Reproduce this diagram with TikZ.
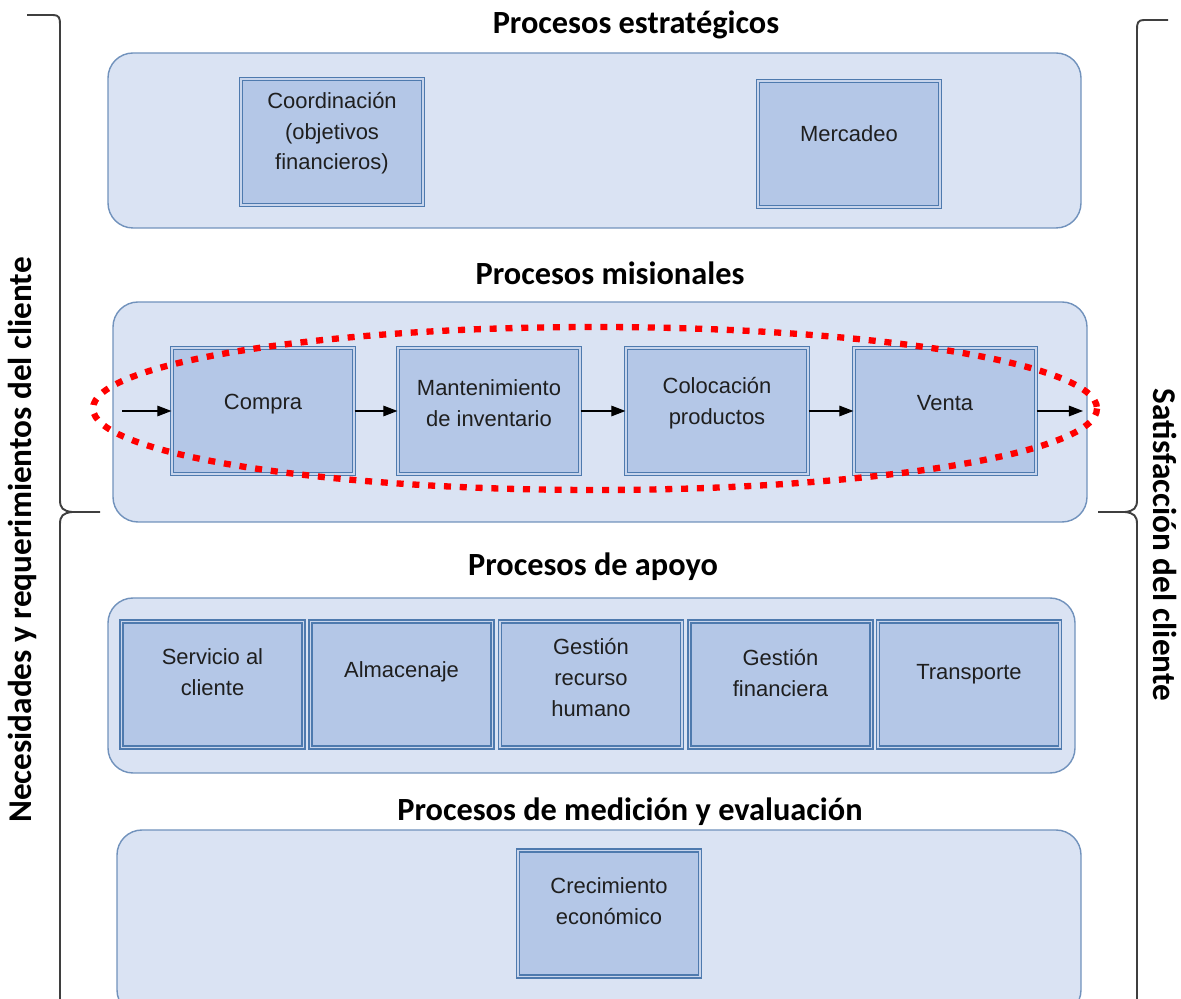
\documentclass[tikz,border=0pt]{standalone}
\usepackage{fontspec}
\setmainfont{Liberation Sans}
\newfontfamily\headfont{Carlito}
\usetikzlibrary{arrows.meta}
\definecolor{panelfill}{HTML}{DAE3F3}
\definecolor{paneledge}{HTML}{7192BC}
\definecolor{boxfill}{HTML}{B4C7E7}
\definecolor{boxedge}{HTML}{4E7AAE}
\definecolor{boxgap}{HTML}{C8D5EC}
\definecolor{bracegray}{HTML}{3F3F3F}
\tikzset{
  panel/.style={draw=paneledge, fill=panelfill, line width=0.8pt, rounded corners=0.5cm},
  proc/.style={draw=boxedge, fill=boxfill, line width=0.7pt, double=boxgap, double distance=1.1pt,
    minimum width=3.64cm, minimum height=2.52cm, inner sep=0pt},
  ptxt/.style={font=\fontsize{12.5}{17.6}\selectfont, text=black!88, align=center},
  head/.style={font=\headfont\bfseries\fontsize{18.4}{22}\selectfont},
  sidehead/.style={font=\headfont\bfseries\fontsize{18.9}{22}\selectfont},
  flow/.style={-{Triangle[length=8pt,width=6pt]}, line width=0.7pt},
  clbrace/.style={draw=bracegray, line width=1.1pt},
}
\begin{document}
\begin{tikzpicture}[x=0.02cm, y=-0.02cm]
    \useasboundingbox (0,0) rectangle (1181,999);

    % procesos estrategicos
    \node[head] (t-estr) at (636,25) {Procesos estratégicos};
    \draw[panel] (108,53) rectangle (1081,228);
    \node[proc] (coord) at (332,142) {};
    \node[ptxt] (coord-t) at ([yshift=5pt]coord.center) {Coordinación\\(objetivos\\financieros)};
    \node[proc] (merc) at (849,144) {};
    \node[ptxt] (merc-t) at ([yshift=6pt]merc.center) {Mercadeo};

    % procesos misionales
    \node[head] (t-mis) at (610,273) {Procesos misionales};
    \draw[panel] (113,302) rectangle (1087,522);
    \node[proc] (compra) at (263,411) {};
    \node[ptxt] (compra-t) at ([yshift=4pt]compra.center) {Compra};
    \node[proc] (mant) at (489,411) {};
    \node[ptxt] (mant-t) at ([yshift=4.5pt]mant.center) {Mantenimiento\\de inventario};
    \node[proc] (coloc) at (717,411) {};
    \node[ptxt] (coloc-t) at ([yshift=4.5pt]coloc.center) {Colocación\\productos};
    \node[proc] (venta) at (945,411) {};
    \node[ptxt] (venta-t) at ([yshift=4.5pt]venta.center) {Venta};
    \coordinate (entrada) at (122,411);
    \coordinate (salida) at (1083,411);
    \draw[flow] (entrada) -- (compra.west);
    \draw[flow] (compra.east) -- (mant.west);
    \draw[flow] (mant.east) -- (coloc.west);
    \draw[flow] (coloc.east) -- (venta.west);
    \draw[flow] (venta.east) -- (salida);
    \draw[red, line width=3.6pt, dash pattern=on 4pt off 5pt] (595,408.5) ellipse [x radius=502, y radius=81.5];

    % procesos de apoyo
    \node[head] (t-apoyo) at (593,567) {Procesos de apoyo};
    \draw[panel] (108,598) rectangle (1075,773);
    \node[proc] (serv) at (212.5,684.5) {};
    \node[ptxt] (serv-t) at ([yshift=7pt]serv.center) {Servicio al\\cliente};
    \node[proc] (alm) at (401.5,684.5) {};
    \node[ptxt] (alm-t) at ([yshift=7pt]alm.center) {Almacenaje};
    \node[proc] (rrhh) at (591,684.5) {};
    \node[ptxt] (rrhh-t) at ([yshift=4pt]rrhh.center) {Gestión\\recurso\\humano};
    \node[proc] (fin) at (780.5,684.5) {};
    \node[ptxt] (fin-t) at ([yshift=6.5pt]fin.center) {Gestión\\financiera};
    \node[proc] (transp) at (969,684.5) {};
    \node[ptxt] (transp-t) at ([yshift=6pt]transp.center) {Transporte};

    % procesos de medicion
    \node[head] (t-med) at (630,812) {Procesos de medición y evaluación};
    \draw[panel] (117,830) rectangle (1081,1015);
    \node[proc] (crec) at (609,913.5) {};
    \node[ptxt] (crec-t) at ([yshift=7pt]crec.center) {Crecimiento\\económico};

    % llaves laterales
    \draw[clbrace] (27,15) -- (53,15) .. controls (59,15) and (60,18) .. (60,24) -- (60,500)
      .. controls (60,508) and (63,511) .. (72,512) -- (100,512);
    \draw[clbrace] (72,512) .. controls (63,513) and (60,516) .. (60,524) -- (60,1010);
    \draw[clbrace] (1168,20) -- (1144,20) .. controls (1138,20) and (1137,23) .. (1137,29) -- (1137,500)
      .. controls (1137,508) and (1134,511) .. (1125,512) -- (1098,512);
    \draw[clbrace] (1125,512) .. controls (1134,513) and (1137,516) .. (1137,524) -- (1137,1010);
    \node[sidehead, rotate=90] (necesidades) at (22,540) {Necesidades y requerimientos del cliente};
    \node[sidehead, rotate=-90] (satisfaccion) at (1165,545) {Satisfacción del cliente};
\end{tikzpicture}
\end{document}
